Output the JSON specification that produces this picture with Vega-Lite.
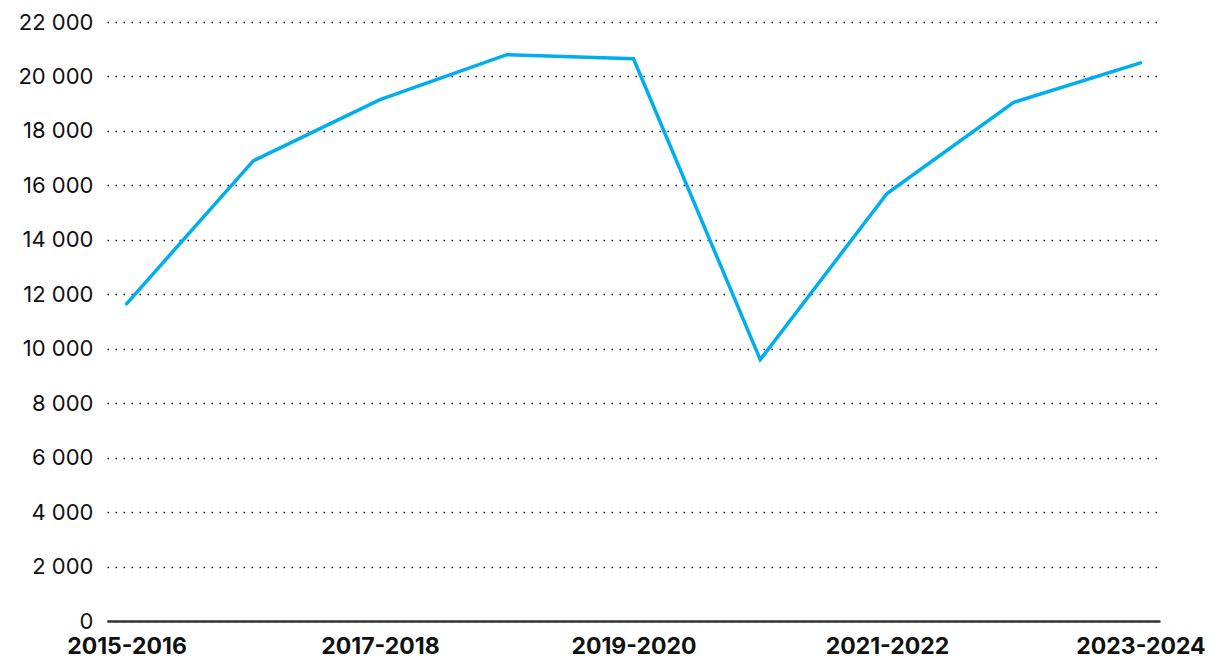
{
  "$schema": "https://vega.github.io/schema/vega-lite/v6.json",
  "width": 1053,
  "height": 599,
  "autosize": {"type": "none"},
  "padding": {"left": 107, "top": 22, "right": 60, "bottom": 47},
  "background": "white",
  "data": {
    "values": [
      {"season": "2015-2016", "value": 11650},
      {"season": "2016-2017", "value": 16900},
      {"season": "2017-2018", "value": 19150},
      {"season": "2018-2019", "value": 20800},
      {"season": "2019-2020", "value": 20650},
      {"season": "2020-2021", "value": 9600},
      {"season": "2021-2022", "value": 15700},
      {"season": "2022-2023", "value": 19050},
      {"season": "2023-2024", "value": 20500}
    ]
  },
  "mark": {"type": "line", "color": "#00AEEF", "strokeWidth": 3.5, "strokeCap": "round", "strokeJoin": "miter"},
  "encoding": {
    "x": {
      "field": "season",
      "type": "ordinal",
      "sort": null,
      "scale": {"type": "point", "padding": 0.154},
      "axis": {
        "title": null,
        "values": ["2015-2016", "2017-2018", "2019-2020", "2021-2022", "2023-2024"],
        "labelAngle": 0,
        "labelFont": "Inter",
        "labelFontWeight": "bold",
        "labelFontSize": 23,
        "labelColor": "#111111",
        "labelPadding": 14,
        "labelOverlap": false,
        "ticks": false,
        "grid": false,
        "domain": true,
        "domainColor": "#333333",
        "domainWidth": 2.5
      }
    },
    "y": {
      "field": "value",
      "type": "quantitative",
      "scale": {"domain": [0, 22000], "nice": false},
      "axis": {
        "title": null,
        "values": [0, 2000, 4000, 6000, 8000, 10000, 12000, 14000, 16000, 18000, 20000, 22000],
        "labelExpr": "replace(format(datum.value, ',d'), regexp(',', 'g'), ' ')",
        "labelFont": "Inter",
        "labelFontSize": 22,
        "labelColor": "#111111",
        "labelPadding": 14,
        "ticks": false,
        "domain": false,
        "grid": true,
        "gridColor": "#111111",
        "gridDash": [1.5, 6.5],
        "gridWidth": 1.5
      }
    }
  },
  "config": {"view": {"stroke": null}}
}
